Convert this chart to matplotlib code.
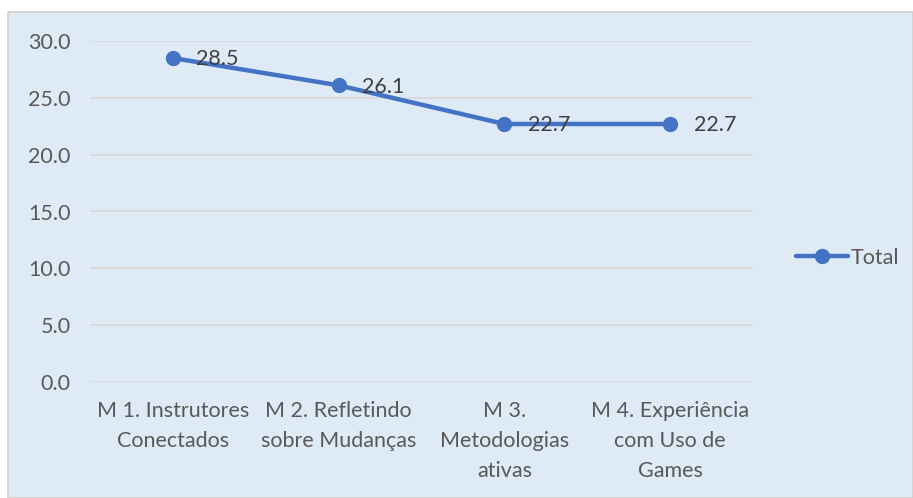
import matplotlib.pyplot as plt
from matplotlib.patches import Rectangle

categories = ["M 1. Instrutores\nConectados", "M 2. Refletindo\nsobre Mudanças",
              "M 3.\nMetodologias\nativas", "M 4. Experiência\ncom Uso de\nGames"]
totals = [28.5, 26.1, 22.7, 22.7]
yticks = [0, 5, 10, 15, 20, 25, 30]

plt.rcParams['font.family'] = ['Lato', 'DejaVu Sans']
FS = 15.5

fig = plt.figure(figsize=(9.13, 4.98), dpi=100, facecolor='white')
# chart area background with border, kept behind the axes
fig.patches.append(Rectangle((8 / 913, 0), 1 - 8 / 913, 1 - 12 / 498, transform=fig.transFigure,
                             facecolor='#DEEAF6', edgecolor='#D0D0D0', lw=1.2, zorder=-10))

ax = fig.add_axes([90 / 913, 1 - 382 / 498, 663 / 913, 341 / 498])
ax.set_facecolor('none')

x = list(range(len(categories)))
ax.plot(x, totals, color='#4472C4', lw=3.2, marker='o', markersize=10,
        solid_capstyle='round', label='Total', zorder=3)
for xi, v in zip(x, totals):
    ax.annotate(f"{v:.1f}", (xi, v), xytext=(17, -1), textcoords='offset points',
                va='center', ha='left', fontsize=FS, color='#404040', zorder=4)

ax.set_xlim(-0.5, len(categories) - 0.5)
ax.set_ylim(0, 30)
ax.set_yticks(yticks)
ax.set_yticklabels([f"{t:.1f}" for t in yticks])
ax.set_xticks(x)
ax.set_xticklabels(categories, linespacing=1.6)
ax.tick_params(axis='y', length=0, pad=14, labelsize=FS, labelcolor='#595959')
ax.tick_params(axis='x', length=0, pad=14, labelsize=FS, labelcolor='#595959')
ax.grid(axis='y', color='#D9D9D9', lw=1.3)
ax.set_axisbelow(True)
for s in ax.spines.values():
    s.set_visible(False)

leg = ax.legend(loc='center left', bbox_to_anchor=(1.035, 0.365), frameon=False,
                fontsize=FS, handlelength=2.45, handletextpad=0.1, labelcolor='#595959')

fig.savefig('out.png', dpi=100, facecolor='white')
